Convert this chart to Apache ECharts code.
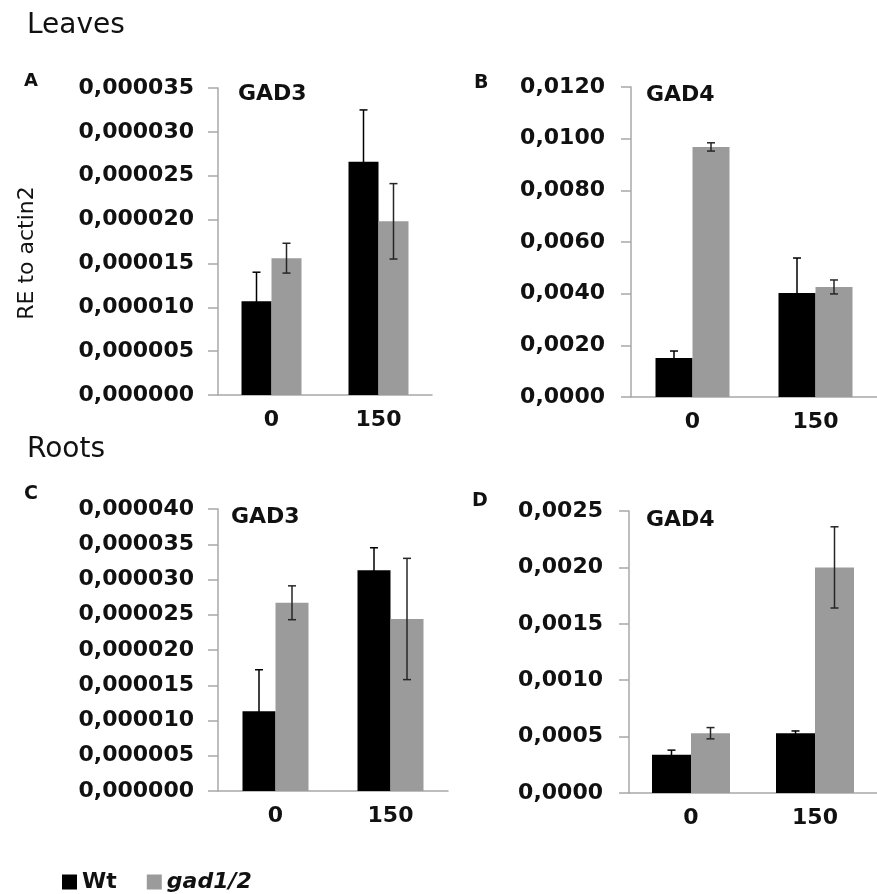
<!DOCTYPE html>
<html>
<head>
<meta charset="utf-8">
<script src="https://cdn.jsdelivr.net/npm/echarts@6/dist/echarts.min.js"></script>
<style>
  html, body { margin: 0; padding: 0; background: #fff; }
  #chart { width: 877px; height: 894px; }
</style>
</head>
<body>
<div id="chart"></div>
<script>
// categories (NaCl, mM)
var doses = ['0', '150'];

// A - leaves GAD3
var leafGad3Wt = [0.0000107, 0.0000266];
var leafGad3WtErr = [0.0000033, 0.0000059];
var leafGad3Mut = [0.0000156, 0.0000198];
var leafGad3MutErr = [0.0000017, 0.0000043];

// B - leaves GAD4
var leafGad4Wt = [0.00151, 0.00403];
var leafGad4WtErr = [0.00027, 0.00135];
var leafGad4Mut = [0.00968, 0.00426];
var leafGad4MutErr = [0.00016, 0.00027];

// C - roots GAD3
var rootGad3Wt = [0.0000113, 0.0000313];
var rootGad3WtErr = [0.0000059, 0.0000032];
var rootGad3Mut = [0.0000267, 0.0000244];
var rootGad3MutErr = [0.0000024, 0.0000086];

// D - roots GAD4
var rootGad4Wt = [0.00034, 0.00053];
var rootGad4WtErr = [0.00004, 0.00002];
var rootGad4Mut = [0.00053, 0.00200];
var rootGad4MutErr = [0.00005, 0.00036];

var FONT = 'DejaVu Sans';
var chart = echarts.init(document.getElementById('chart'));

// panel layout: grid box + bar width + y axis settings
var panels = [
  { grid: { left: 218, top: 88, width: 214, height: 307 }, bw: 30, max: 0.000035, step: 0.000005, dec: 6,
    wt: leafGad3Wt, wtErr: leafGad3WtErr, mut: leafGad3Mut, mutErr: leafGad3MutErr, margin: 24 },
  { grid: { left: 631, top: 87, width: 254, height: 310 }, bw: 37, max: 0.012, step: 0.002, dec: 4,
    wt: leafGad4Wt, wtErr: leafGad4WtErr, mut: leafGad4Mut, mutErr: leafGad4MutErr, margin: 26 },
  { grid: { left: 218, top: 509, width: 230, height: 282 }, bw: 33, max: 0.00004, step: 0.000005, dec: 6,
    wt: rootGad3Wt, wtErr: rootGad3WtErr, mut: rootGad3Mut, mutErr: rootGad3MutErr, margin: 24 },
  { grid: { left: 629, top: 511, width: 272, height: 282 }, bw: 39, max: 0.0025, step: 0.0005, dec: 4,
    wt: rootGad4Wt, wtErr: rootGad4WtErr, mut: rootGad4Mut, mutErr: rootGad4MutErr, margin: 26 }
];

var grids = [], xAxes = [], yAxes = [], series = [];

function errorBars(values, errs, idx, offset, color) {
  return {
    type: 'custom',
    xAxisIndex: idx,
    yAxisIndex: idx,
    z: 5,
    data: values.map(function (v, i) { return [i, v, errs[i]]; }),
    renderItem: function (params, api) {
      var c = api.value(0), v = api.value(1), e = api.value(2);
      var hi = api.coord([c, v + e]);
      var lo = api.coord([c, v - e]);
      var x = hi[0] + offset;
      var st = { stroke: color, lineWidth: 1.5 };
      return {
        type: 'group',
        children: [
          { type: 'line', shape: { x1: x, y1: hi[1], x2: x, y2: lo[1] }, style: st },
          { type: 'line', shape: { x1: x - 4, y1: hi[1], x2: x + 4, y2: hi[1] }, style: st },
          { type: 'line', shape: { x1: x - 4, y1: lo[1], x2: x + 4, y2: lo[1] }, style: st }
        ]
      };
    }
  };
}

panels.forEach(function (p, i) {
  grids.push(p.grid);
  xAxes.push({
    type: 'category', gridIndex: i, data: doses,
    axisLine: { lineStyle: { color: '#a8a8a8', width: 1.5 } },
    axisTick: { length: 5, lineStyle: { color: '#a8a8a8', width: 1.5 } },
    axisLabel: { margin: 14, color: '#111', fontFamily: FONT, fontWeight: 'bold', fontSize: 22 }
  });
  yAxes.push({
    type: 'value', gridIndex: i, min: 0, max: p.max, interval: p.step,
    splitLine: { show: false },
    axisLine: { show: true, lineStyle: { color: '#a8a8a8', width: 1.5 } },
    axisTick: { show: true, length: 10, lineStyle: { color: '#a8a8a8', width: 1.5 } },
    axisLabel: {
      margin: p.margin, color: '#111', fontFamily: FONT, fontWeight: 'bold', fontSize: 22,
      formatter: (function (d) { return function (v) { return v.toFixed(d).replace('.', ','); }; })(p.dec)
    }
  });
  series.push({
    name: 'Wt', type: 'bar', xAxisIndex: i, yAxisIndex: i, data: p.wt,
    barWidth: p.bw, barGap: '0%', itemStyle: { color: '#000000' }
  });
  series.push({
    name: 'gad1/2', type: 'bar', xAxisIndex: i, yAxisIndex: i, data: p.mut,
    barWidth: p.bw, barGap: '0%', itemStyle: { color: '#9b9b9b' }
  });
  series.push(errorBars(p.wt, p.wtErr, i, -p.bw / 2, '#000000'));
  series.push(errorBars(p.mut, p.mutErr, i, p.bw / 2, '#262626'));
});

function txt(x, y, text, size, weight) {
  return {
    type: 'text', x: x, y: y,
    style: { text: text, fill: '#111', font: (weight || 'normal') + ' ' + size + 'px "' + FONT + '"', textVerticalAlign: 'top' }
  };
}

chart.setOption({
  animation: false,
  backgroundColor: '#ffffff',
  grid: grids,
  xAxis: xAxes,
  yAxis: yAxes,
  series: series,
  legend: {
    data: ['Wt', 'gad1/2'],
    left: 57, top: 866,
    icon: 'rect', itemWidth: 15, itemHeight: 15, itemGap: 30,
    textStyle: {
      color: '#111', fontFamily: FONT, fontWeight: 'bold', fontSize: 22,
      rich: {
        n: { fontFamily: FONT, fontWeight: 'bold', fontSize: 22, color: '#111' },
        i: { fontFamily: FONT, fontWeight: 'bold', fontStyle: 'italic', fontSize: 22, color: '#111' }
      }
    },
    formatter: function (name) { return name === 'Wt' ? '{n|Wt}' : '{i|' + name + '}'; }
  },
  graphic: [
    txt(27, 12, 'Leaves', 28),
    txt(27, 436, 'Roots', 28),
    txt(24, 72, 'A', 18, 'bold'),
    txt(474, 74, 'B', 19, 'bold'),
    txt(24, 485, 'C', 19, 'bold'),
    txt(472, 492, 'D', 19, 'bold'),
    txt(238, 83, 'GAD3', 22, 'bold'),
    txt(646, 84, 'GAD4', 22, 'bold'),
    txt(231, 506, 'GAD3', 22, 'bold'),
    txt(646, 509, 'GAD4', 22, 'bold'),
    {
      type: 'text', x: 27, y: 253, rotation: Math.PI / 2,
      style: { text: 'RE to actin2', fill: '#111', font: '22px "' + FONT + '"', textAlign: 'center', textVerticalAlign: 'middle' }
    }
  ]
});
</script>
</body>
</html>
